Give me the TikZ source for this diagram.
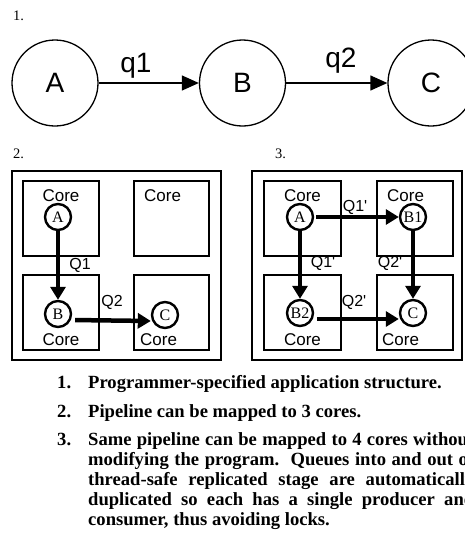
\documentclass[tikz,border=0pt]{standalone}
\usepackage{fontspec}
\setmainfont{Liberation Serif}
\newfontfamily\arialfont{Liberation Sans}
\usetikzlibrary{arrows.meta}
\tikzset{
  >=latex,
}
\tikzstyle{bigstage}=[circle,draw,line width=1.3pt,minimum size=86pt,inner sep=0pt,font=\arialfont\fontsize{28}{30}\selectfont]
\tikzstyle{pipe}=[line width=1.3pt,-{Triangle[length=17pt,width=15pt]}]
\tikzstyle{qlabel}=[font=\arialfont\fontsize{28}{30}\selectfont,anchor=base,inner sep=0pt]
\tikzstyle{chip}=[draw,line width=2.6pt]
\tikzstyle{corebox}=[draw,line width=2.6pt]
\tikzstyle{stage}=[circle,draw,fill=white,line width=2.4pt,minimum size=26pt,inner sep=0pt,font=\fontsize{16}{16}\selectfont]
\tikzstyle{qarrow}=[line width=4.5pt,-{Triangle[length=13pt,width=15pt]}]
\tikzstyle{corelabel}=[font=\arialfont\fontsize{17}{17}\selectfont,anchor=base,inner sep=0pt]
\tikzstyle{queue}=[font=\arialfont\fontsize{16}{16}\selectfont,inner sep=0pt]
\tikzstyle{tag}=[font=\fontsize{14.5}{15}\selectfont,anchor=base west,inner sep=0pt]
\tikzstyle{caption}=[font=\bfseries\fontsize{18.6}{20}\selectfont,anchor=base west,inner sep=0pt]

\begin{document}
\begin{tikzpicture}[x=1pt,y=-1pt]
    \useasboundingbox (0,0) rectangle (465,544);
    \clip (0,0) rectangle (465,544);
    % 1. application structure
    \node[tag] (lab1) at (13,20) {1.};
    \node[bigstage] (A) at (55,83) {A};
    \node[bigstage] (B) at (242.5,83) {B};
    \node[bigstage] (C) at (431,83) {C};
    \draw[pipe] (A) -- (B);
    \draw[pipe] (B) -- (C);
    \node[qlabel] (q1) at (136,72) {q1};
    \node[qlabel] (q2) at (341,67) {q2};
    % 2. three cores
    \node[tag] (lab2) at (13,158) {2.};
    \draw[chip] (12,171) rectangle (221,360);
    \draw[corebox] (23,181) rectangle (99,256);
    \draw[corebox] (134,181) rectangle (209,256);
    \draw[corebox] (23,275) rectangle (99,350);
    \draw[corebox] (134,275) rectangle (209,350);
    \node[corelabel] (core2a) at (61,201) {Core};
    \node[corelabel,anchor=base west] (core2b) at (144,201) {Core};
    \node[corelabel] (core2c) at (61,345) {Core};
    \node[corelabel,anchor=base west] (core2d) at (140,345) {Core};
    \node[stage] (A2) at (58,217) {A};
    \node[stage] (B2) at (58,314) {B};
    \node[stage] (C2) at (165,315) {C};
    \draw[qarrow] (A2) -- (B2);
    \draw[qarrow,shorten <=3pt] ([yshift=-6pt]B2.east) -- ([yshift=-6pt]C2.west);
    \node[queue] (Q1) at (80,265) {Q1};
    \node[queue] (Q2) at (112,302) {Q2};
    % 3. four cores
    \node[tag] (lab3) at (275,158) {3.};
    \draw[chip] (252,171) rectangle (462,360);
    \draw[corebox] (264,181) rectangle (341,256);
    \draw[corebox] (377,181) rectangle (453,256);
    \draw[corebox] (264,275) rectangle (341,350);
    \draw[corebox] (377,275) rectangle (453,350);
    \node[corelabel] (core3a) at (302.5,201) {Core};
    \node[corelabel,anchor=base west] (core3b) at (387,201) {Core};
    \node[corelabel] (core3c) at (302.5,345) {Core};
    \node[corelabel,anchor=base west] (core3d) at (382,345) {Core};
    \node[stage] (A3) at (300,217) {A};
    \node[stage] (B31) at (413,217) {B1};
    \node[stage] (B32) at (300,313) {B2};
    \node[stage] (C3) at (413,313) {C};
    \draw[qarrow,shorten <=2pt] (A3) -- (B31);
    \draw[qarrow] (A3) -- (B32);
    \draw[qarrow] (B31) -- (C3);
    \draw[qarrow,shorten <=3pt] ([yshift=-6pt]B32.east) -- ([yshift=-6pt]C3.west);
    \node[queue] (Q1a) at (355,207) {Q1'};
    \node[queue] (Q1b) at (323,263) {Q1'};
    \node[queue] (Q2a) at (390,263) {Q2'};
    \node[queue] (Q2b) at (354,302) {Q2'};
    % captions
    \node[caption] (n1) at (57,388) {1.};
    \node[caption] (t1) at (88,388) {Programmer-specified application structure.};
    \node[caption] (n2) at (57,417) {2.};
    \node[caption] (t2) at (88,417) {Pipeline can be mapped to 3 cores.};
    \node[caption] (n3) at (57,445) {3.};
    \node[caption] (t3a) at (88,445) {\makebox[386pt][s]{Same pipeline can be mapped to 4 cores without}};
    \node[caption] (t3b) at (88,465) {\makebox[386pt][s]{modifying the program.\ \ Queues into and out of}};
    \node[caption] (t3c) at (88,485) {\makebox[386pt][s]{thread-safe replicated stage are automatically}};
    \node[caption] (t3d) at (88,505) {\makebox[386pt][s]{duplicated so each has a single producer and}};
    \node[caption] (t3e) at (88,525) {consumer, thus avoiding locks.};
\end{tikzpicture}
\end{document}
